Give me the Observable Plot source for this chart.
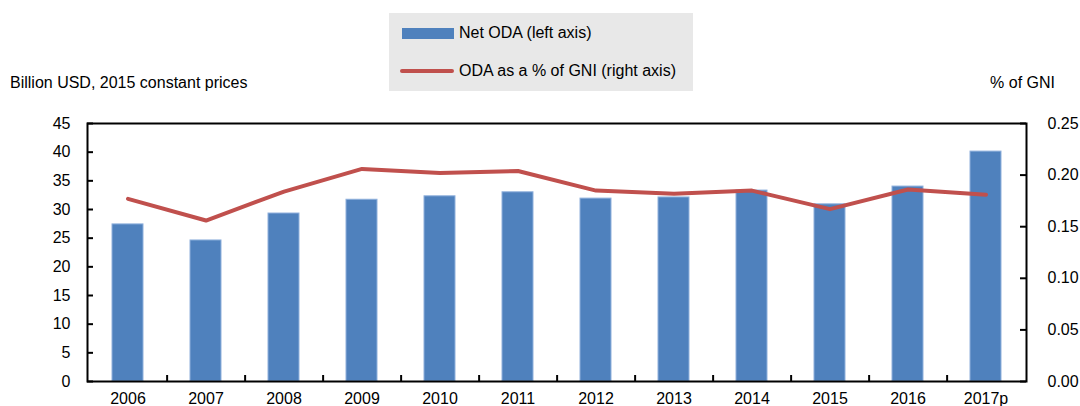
<!DOCTYPE html>
<html><head><meta charset="utf-8">
<script src="https://cdn.jsdelivr.net/npm/d3@7"></script>
<script src="https://cdn.jsdelivr.net/npm/@observablehq/plot@0.6"></script>
<style>
body{margin:0;background:#fff;font-family:"Liberation Sans",Arial,sans-serif;color:#000;}
#wrap{position:relative;width:1080px;height:406px;overflow:hidden;}
#wrap svg{position:absolute;left:0;top:0;}
.lab{position:absolute;font-size:16px;line-height:18px;white-space:nowrap;}
#legend{position:absolute;left:389px;top:13px;width:304px;height:78px;background:#e8e8e8;}
.sw{position:absolute;}
</style></head><body>
<div id="wrap">
  <div class="lab" style="left:10px;top:74px;">Billion USD, 2015 constant prices</div>
  <div class="lab" style="right:25px;top:74px;">% of GNI</div>
  <div id="legend">
    <div class="sw" style="left:13px;top:15px;width:52px;height:11px;background:#4f81bd;"></div>
    <div class="lab" style="left:70px;top:11px;">Net ODA (left axis)</div>
    <div class="sw" style="left:11px;top:56px;width:54px;height:4px;background:#c0504d;border-radius:2px;"></div>
    <div class="lab" style="left:70px;top:49px;">ODA as a % of GNI (right axis)</div>
  </div>
</div>
<script>
const years = ["2006","2007","2008","2009","2010","2011","2012","2013","2014","2015","2016","2017p"];
const netODA = [27.4, 24.6, 29.3, 31.7, 32.3, 33.0, 31.9, 32.1, 33.3, 30.9, 34.0, 40.1];
const odaGNI = [0.177, 0.156, 0.184, 0.206, 0.202, 0.204, 0.185, 0.182, 0.185, 0.167, 0.186, 0.181];
const leftTicks = [0, 5, 10, 15, 20, 25, 30, 35, 40, 45];
const rightTicks = [0, 0.05, 0.10, 0.15, 0.20, 0.25];

const ratio = 45 / 0.25;
const data = years.map((y, i) => ({year: y, oda: netODA[i], gni: odaGNI[i]}));
const W = 1080, H = 406, mL = 87, mR = 54, mT = 123, mB = 25;
const pw = W - mL - mR, ph = H - mT - mB;
const step = pw / years.length;
const tl = 6;
const rightVals = rightTicks.map(v => v * ratio);

const chart = Plot.plot({
  width: W, height: H,
  marginTop: mT, marginBottom: mB, marginLeft: mL, marginRight: mR,
  style: {fontFamily: '"Liberation Sans", Arial, sans-serif', fontSize: "16px", color: "#000", background: "transparent"},
  x: {domain: years, paddingInner: 0.6, paddingOuter: 0.3, axis: null},
  y: {domain: [0, 45], axis: null},
  marks: [
    Plot.barY(data, {x: "year", y: "oda", fill: "#4f81bd", stroke: "#8fb0dc", strokeWidth: 1}),
    Plot.line(data, {x: "year", y: d => d.gni * ratio, stroke: "#c0504d", strokeWidth: 4, strokeLinejoin: "round", strokeLinecap: "round"}),
    // inward tick marks
    Plot.ruleX(years.slice(0, -1), {x: d => d, dx: step / 2, insetTop: ph - tl, stroke: "#000", strokeWidth: 2}),
    Plot.tickY(leftTicks, {y: d => d, insetRight: pw - tl, stroke: "#000", strokeWidth: 2}),
    Plot.tickY(rightVals, {y: d => d, insetLeft: pw - tl, stroke: "#000", strokeWidth: 2}),
    // labels
    Plot.axisY({anchor: "left", ticks: leftTicks, tickSize: 0, tickPadding: 17, label: null, fontSize: 16}),
    Plot.axisY({anchor: "right", ticks: rightVals, tickFormat: d => (d / ratio).toFixed(2), tickSize: 0, tickPadding: 21, label: null, fontSize: 16}),
    Plot.axisX({anchor: "bottom", tickSize: 0, tickPadding: 11, label: null, fontSize: 16}),
    Plot.frame({stroke: "#000", strokeWidth: 2})
  ]
});
document.getElementById("wrap").prepend(chart);
</script>
</body></html>
